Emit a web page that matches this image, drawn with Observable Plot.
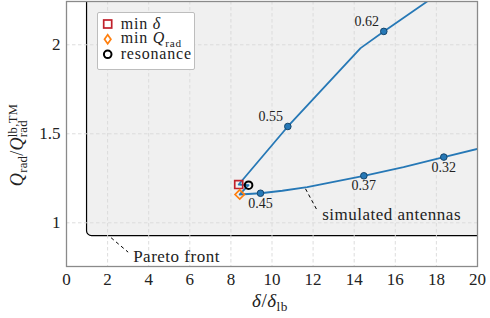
<!DOCTYPE html>
<html><head><meta charset="utf-8">
<script src="https://cdn.jsdelivr.net/npm/d3@7"></script>
<script src="https://cdn.jsdelivr.net/npm/@observablehq/plot@0.6"></script>
<style>
body{margin:0;background:#fff}
#chart svg, #chart svg text { font-family: 'Liberation Serif', 'DejaVu Serif', serif !important; }
#chart .ann text { letter-spacing: 0.5px; }
</style>
</head><body><div id="chart"></div>
<script>
// ---- data ----
const curveX = [17.6, 15.44, 14.31, 10.77, 8.38, 8.86, 8.43, 9.44, 10.5, 11.71, 14.47, 16.4, 18.36, 20.0];
const curveY = [2.247, 2.075, 1.981, 1.541, 1.215, 1.211, 1.159, 1.166, 1.180, 1.200, 1.264, 1.313, 1.369, 1.415];
const sampleX = [15.44, 10.77, 9.44, 14.47, 18.36];
const sampleY = [2.075, 1.541, 1.166, 1.264, 1.369];
const sampleLabel = ["0.62", "0.55", "0.45", "0.37", "0.32"];
const sampleBranch = ["upper", "upper", "lower", "lower", "lower"];
const specialName = ["min δ", "min Q", "resonance"];
const specialX = [8.38, 8.43, 8.86];
const specialY = [1.215, 1.159, 1.211];
const paretoX = 1.0;
const paretoY = 0.925;
const annText = ["simulated antennas", "Pareto front"];
const annFromX = [11.63, 2.17];
const annFromY = [1.191, 0.916];
const annToX = [12.2, 3.0];
const annToY = [1.069, 0.835];
const xTicks = [0, 2, 4, 6, 8, 10, 12, 14, 16, 18, 20];
const yTicks = [1, 1.5, 2];

const curve = curveX.map((x, i) => ({x, y: curveY[i]}));
const samples = sampleX.map((x, i) => ({x, y: sampleY[i], label: sampleLabel[i], branch: sampleBranch[i]}));
const specials = specialX.map((x, i) => ({x, y: specialY[i], name: specialName[i]}));
const ann = annText.map((t, i) => ({t, x1: annFromX[i], y1: annFromY[i], x2: annToX[i], y2: annToY[i]}));

const FONT = "'Liberation Serif', 'DejaVu Serif', serif";
const blue = "#2678b6";

const plot = Plot.plot({
  width: 490, height: 318,
  marginLeft: 66, marginRight: 13, marginTop: 1, marginBottom: 52,
  style: {background: "#fff", color: "#222"},
  x: {domain: [0, 20], label: null},
  y: {domain: [0.7545, 2.243], label: null},
  marks: [
    Plot.rect([0], {x1: paretoX, x2: 30, y1: paretoY, y2: 4, fill: "#f0f0f0", stroke: "#000", strokeWidth: 1.2, rx: 5, clip: true}),
    Plot.ruleX(xTicks.slice(1, -1), {stroke: "#d9d9d9", strokeDasharray: "3.5,2.5", strokeWidth: 0.9}),
    Plot.ruleY(yTicks, {stroke: "#d9d9d9", strokeDasharray: "3.5,2.5", strokeWidth: 0.9}),
    Plot.axisX({ticks: xTicks, tickSize: 0, tickPadding: 6, fontSize: 17, tickFormat: d => String(d), label: null, fill: "#222"}),
    Plot.axisY({ticks: yTicks, tickSize: 0, tickPadding: 6, fontSize: 17, tickFormat: d => String(d), label: null, fill: "#222"}),
    Plot.link(ann, {x1: "x1", y1: "y1", x2: "x2", y2: "y2", stroke: "#000", strokeDasharray: "3.5,3", strokeWidth: 1}),
    Plot.text(ann, {x: "x2", y: "y2", text: "t", textAnchor: "start", dx: 5, dy: 4, fontSize: 17, fill: "#222", className: "ann"}),
    Plot.line(curve, {x: "x", y: "y", stroke: blue, strokeWidth: 1.8, clip: true}),
    Plot.dot(samples, {x: "x", y: "y", r: 3.3, fill: blue, stroke: "#16466c", strokeWidth: 1}),
    Plot.text(samples.filter(d => d.branch === "upper"), {x: "x", y: "y", text: "label", dx: -17, dy: -10, fontSize: 14, fill: "#222"}),
    Plot.text(samples.filter(d => d.branch === "lower"), {x: "x", y: "y", text: "label", dy: 10, fontSize: 14, fill: "#222"}),
    Plot.dot(specials.filter(d => d.name === "min δ"), {x: "x", y: "y", symbol: "square", r: 4.5, fill: "none", stroke: "#c0202b", strokeWidth: 1.7}),
    Plot.dot(specials.filter(d => d.name === "min Q"), {x: "x", y: "y", symbol: "diamond2", r: 4.2, fill: "none", stroke: "#ff7f0e", strokeWidth: 1.7}),
    Plot.dot(specials.filter(d => d.name === "resonance"), {x: "x", y: "y", symbol: "circle", r: 3.8, fill: "none", stroke: "#000", strokeWidth: 2}),
    Plot.frame({stroke: "#8a8a8a", strokeWidth: 1.3})
  ]
});
document.getElementById("chart").appendChild(plot);

// ---- rich text labels and legend ----
const svg = d3.select(plot);
function rich(g, parts, size, spacing) {
  const t = g.append("text").attr("font-family", FONT).attr("font-size", size).attr("fill", "#222")
    .attr("text-anchor", "start").style("letter-spacing", (spacing || 0) + "px");
  let lastSupLen = 0;
  parts.forEach(p => {
    const s = t.append("tspan").text(p.t);
    if (p.i) s.attr("font-style", "italic");
    if (p.sub) { s.attr("font-size", size * 0.7).attr("dy", p.back ? 10 : 4); if (p.back) s.attr("dx", -lastSupLen); }
    if (p.sup) { s.attr("font-size", size * 0.7).attr("dy", -6); lastSupLen = s.node().getComputedTextLength(); }
    if (p.reset) s.attr("dy", p.reset);
  });
  return t;
}
// x label
{
  const g = svg.append("g");
  const t = rich(g, [{t: "δ", i: true}, {t: "/"}, {t: "δ", i: true}, {t: "lb", sub: true}], 19, 0.5);
  const w = t.node().getBBox().width;
  g.attr("transform", `translate(${270 - w / 2},307)`);
}
// y label
{
  const g = svg.append("g");
  const t = rich(g, [{t: "Q", i: true}, {t: "rad", sub: true}, {t: "/", reset: -4}, {t: "Q", i: true}, {t: "lb,TM", sup: true}, {t: "rad", sub: true, back: true}], 18, 0.3);
  const w = t.node().getBBox().width;
  g.attr("transform", `translate(23,${145 + w / 2}) rotate(-90)`);
}
// legend
{
  const g = svg.append("g");
  g.append("rect").attr("x", 97.5).attr("y", 12.5).attr("width", 97).attr("height", 57)
    .attr("fill", "#fff").attr("stroke", "#bdbdbd").attr("stroke-width", 1).attr("rx", 1.5);
  const mx = 107.7, ys = [24, 39.3, 54.3];
  g.append("rect").attr("x", mx - 4).attr("y", ys[0] - 4).attr("width", 8).attr("height", 8)
    .attr("fill", "none").attr("stroke", "#c0202b").attr("stroke-width", 1.7);
  g.append("path").attr("d", `M${mx},${ys[1] - 4.5}L${mx + 3.2},${ys[1]}L${mx},${ys[1] + 4.5}L${mx - 3.2},${ys[1]}Z`)
    .attr("fill", "none").attr("stroke", "#ff7f0e").attr("stroke-width", 1.7);
  g.append("circle").attr("cx", mx).attr("cy", ys[2]).attr("r", 3.8)
    .attr("fill", "none").attr("stroke", "#000").attr("stroke-width", 2);
  const l1 = rich(g, [{t: "min "}, {t: "δ", i: true}], 16, 0.8); l1.attr("x", 120.7).attr("y", ys[0] + 5);
  const l2 = rich(g, [{t: "min "}, {t: "Q", i: true}, {t: "rad", sub: true}], 16, 0.8); l2.attr("x", 120.7).attr("y", ys[1] + 4);
  const l3 = rich(g, [{t: "resonance"}], 16, 0.8); l3.attr("x", 120.7).attr("y", ys[2] + 5);
}
</script>
</body></html>
